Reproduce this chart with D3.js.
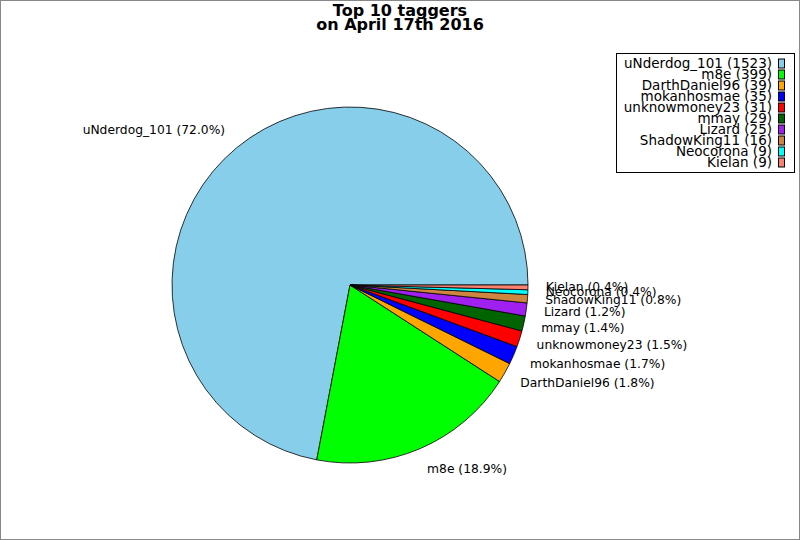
<!DOCTYPE html>
<html>
<head>
<meta charset="utf-8">
<script src="https://cdn.jsdelivr.net/npm/d3@7"></script>
<style>
  body { margin: 0; background: #fff; }
  svg { display: block; font-family: "DejaVu Sans", sans-serif; }
</style>
</head>
<body>
<div id="chart"></div>
<script>
// chart data
var names = ["uNderdog_101", "m8e", "DarthDaniel96", "mokanhosmae", "unknowmoney23",
             "mmay", "Lizard", "ShadowKing11", "Neocorona", "Kielan"];
var counts = [1523, 399, 39, 35, 31, 29, 25, 16, 9, 9];
var colors = ["#87ceeb", "#00ff00", "#ffa500", "#0000ff", "#ff0000",
              "#006400", "#a020f0", "#cd853f", "#00ffff", "#fa8072"];
var titleLines = ["Top 10 taggers", "on April 17th 2016"];

var w = 800;
var h = 540;
var cx = 350, cy = 285, r = 178;

var total = d3.sum(counts);
var pct = d3.format(".1f");

var svg = d3.select("#chart")
    .append("svg")
    .attr("width", w)
    .attr("height", h);

// figure frame
svg.append("rect")
    .attr("x", 0.5).attr("y", 0.5)
    .attr("width", w - 1).attr("height", h - 1)
    .attr("fill", "white")
    .attr("stroke", "#888")
    .attr("stroke-width", 1);

// title
svg.append("text")
    .attr("x", 400)
    .attr("text-anchor", "middle")
    .attr("font-weight", "bold")
    .attr("font-size", 16)
    .selectAll("tspan")
    .data(titleLines)
    .enter()
    .append("tspan")
    .attr("x", 400)
    .attr("y", function(d, i) { return 16 + i * 14; })
    .text(function(d) { return d; });

// pie: counter-clockwise from 3 o'clock
var pie = d3.pie()
    .sort(null)
    .startAngle(Math.PI / 2)
    .endAngle(Math.PI / 2 - 2 * Math.PI);

var arcs = pie(counts);

var arc = d3.arc().innerRadius(0).outerRadius(r);
var labelArc = d3.arc().innerRadius(r * 1.1).outerRadius(r * 1.1);

var g = svg.append("g")
    .attr("transform", "translate(" + cx + "," + cy + ")");

g.selectAll("path")
    .data(arcs)
    .enter()
    .append("path")
    .attr("d", arc)
    .attr("fill", function(d, i) { return colors[i]; })
    .attr("stroke", "black")
    .attr("stroke-width", 0.8)
    .attr("stroke-linejoin", "round");

// labels sit a little further out vertically than horizontally
g.selectAll("text.lbl")
    .data(arcs)
    .enter()
    .append("text")
    .attr("class", "lbl")
    .attr("x", function(d) { return labelArc.centroid(d)[0]; })
    .attr("y", function(d) { return labelArc.centroid(d)[1] * 1.025; })
    .attr("dy", "0.28em")
    .attr("text-anchor", function(d) {
        return labelArc.centroid(d)[0] > 0 ? "start" : "end";
    })
    .attr("font-size", 12.3)
    .attr("fill", "black")
    .text(function(d, i) {
        return names[i] + " (" + pct(d.value / total * 100) + "%)";
    });

// legend
var lx = 616.5, ly = 53.5, lw = 178, lh = 119;
var legend = svg.append("g");

legend.append("rect")
    .attr("x", lx).attr("y", ly)
    .attr("width", lw).attr("height", lh)
    .attr("fill", "white")
    .attr("stroke", "black")
    .attr("stroke-width", 1);

var rows = legend.selectAll("g.row")
    .data(names)
    .enter()
    .append("g")
    .attr("class", "row")
    .attr("transform", function(d, i) {
        return "translate(0," + (63.5 + i * 11) + ")";
    });

rows.append("text")
    .attr("x", 772)
    .attr("dy", "0.35em")
    .attr("text-anchor", "end")
    .attr("font-size", 13.5)
    .text(function(d, i) { return d + " (" + counts[i] + ")"; });

rows.append("rect")
    .attr("x", 778.5)
    .attr("y", -4.5)
    .attr("width", 6)
    .attr("height", 9)
    .attr("fill", function(d, i) { return colors[i]; })
    .attr("stroke", "black")
    .attr("stroke-width", 1);
</script>
</body>
</html>
